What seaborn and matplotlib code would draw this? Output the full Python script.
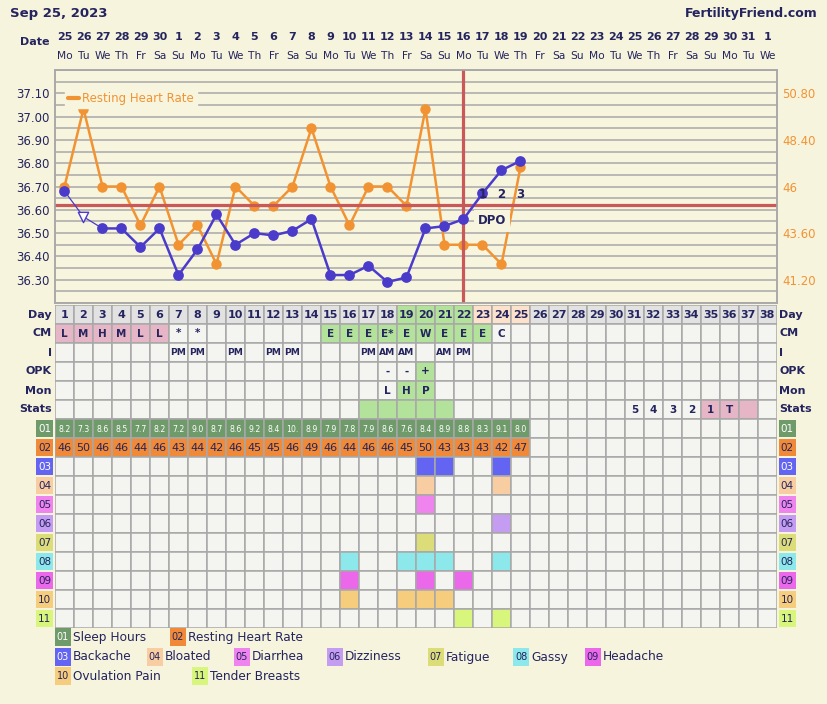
import numpy as np
import pandas as pd
import matplotlib
matplotlib.use("Agg")
import matplotlib.pyplot as plt
import seaborn as sns
from matplotlib.transforms import blended_transform_factory
from matplotlib.patches import Rectangle
from matplotlib.lines import Line2D

# ---------------- data ----------------
title_date = "Sep 25, 2023"
site = "FertilityFriend.com"
date_numbers = [25, 26, 27, 28, 29, 30, 1, 2, 3, 4, 5, 6, 7, 8, 9, 10, 11, 12, 13,
                14, 15, 16, 17, 18, 19, 20, 21, 22, 23, 24, 25, 26, 27, 28, 29, 30, 31, 1]
weekdays = ["Mo", "Tu", "We", "Th", "Fr", "Sa", "Su", "Mo", "Tu", "We", "Th", "Fr", "Sa",
            "Su", "Mo", "Tu", "We", "Th", "Fr", "Sa", "Su", "Mo", "Tu", "We", "Th", "Fr",
            "Sa", "Su", "Mo", "Tu", "We", "Th", "Fr", "Sa", "Su", "Mo", "Tu", "We"]
cycle_days = list(range(1, 39))

temp_days = list(range(1, 26))
temps = [36.68, 36.57, 36.52, 36.52, 36.44, 36.52, 36.32, 36.43, 36.58, 36.45,
         36.50, 36.49, 36.51, 36.56, 36.32, 36.32, 36.36, 36.29, 36.31, 36.52,
         36.53, 36.56, 36.67, 36.77, 36.81]
discarded_days = [2]
heart_rate = [46, 50, 46, 46, 44, 46, 43, 44, 42, 46, 45, 45, 46, 49, 46, 44, 46, 46,
              45, 50, 43, 43, 43, 42, 47]
sleep_hours = ["8.2", "7.3", "8.6", "8.5", "7.7", "8.2", "7.2", "9.0", "8.7", "8.6",
               "9.2", "8.4", "10.", "8.9", "7.9", "7.8", "7.9", "8.6", "7.6", "8.4",
               "8.9", "8.8", "8.3", "9.1", "8.0"]
coverline = 36.62
ovulation_day = 22
dpo_days = [23, 24, 25]
dpo_labels = ["1", "2", "3"]

temp_ticks = [36.30, 36.40, 36.50, 36.60, 36.70, 36.80, 36.90, 37.00, 37.10]
hr_ticks = [41.2, 43.6, 46.0, 48.4, 50.8]
hr_tick_labels = ["41.20", "43.60", "46", "48.40", "50.80"]

fertile_days = [19, 20, 21, 22]
post_ov_days = [23, 24, 25]

cm_days = [1, 2, 3, 4, 5, 6, 7, 8, 15, 16, 17, 18, 19, 20, 21, 22, 23, 24]
cm_labels = ["L", "M", "H", "M", "L", "L", "*", "*", "E", "E", "E", "E*", "E", "W",
             "E", "E", "E", "C"]
cm_pink_days = [1, 2, 3, 4, 5, 6]
cm_green_days = [15, 16, 17, 18, 19, 20, 21, 22, 23]

i_days = [7, 8, 10, 12, 13, 17, 18, 19, 21, 22]
i_labels = ["PM", "PM", "PM", "PM", "PM", "PM", "AM", "AM", "AM", "PM"]

opk_days = [18, 19, 20]
opk_labels = ["-", "-", "+"]
opk_green_days = [20]

mon_days = [18, 19, 20]
mon_labels = ["L", "H", "P"]
mon_green_days = [19, 20]

stats_green_days = [17, 18, 19, 20, 21]
stats_pink_days = [35, 36, 37]
stats_days = [31, 32, 33, 34, 35, 36]
stats_labels = ["5", "4", "3", "2", "1", "T"]

row_titles = ["Day", "CM", "I", "OPK", "Mon", "Stats"]
symptom_codes = ["01", "02", "03", "04", "05", "06", "07", "08", "09", "10", "11"]
symptom_names = ["Sleep Hours", "Resting Heart Rate", "Backache", "Bloated", "Diarrhea",
                 "Dizziness", "Fatigue", "Gassy", "Headache", "Ovulation Pain",
                 "Tender Breasts"]
backache_days = [20, 21, 24]
bloated_days = [20, 24]
diarrhea_days = [20]
dizziness_days = [24]
fatigue_days = [20]
gassy_days = [16, 19, 20, 21, 24]
headache_days = [16, 20, 22]
ovulation_pain_days = [16, 19, 20, 21]
tender_breasts_days = [22, 24]

# ---------------- style ----------------
NAVY = "#24245e"
ORANGE = "#f29333"
PURPLE = "#4b3bcb"
RED = "#c95858"
GRID = "#a8a8a8"
BG = "#f7f4dd"
CHART_BG = "#f8f5df"
CELL = "#f4f4f0"
DAYGREY = "#e2e2e2"
GREEN = "#b3e29b"
PINK = "#e7b6c6"
PEACH = "#fde2cb"
sym_colors = ["#6f9a6a", "#f08a38", "#6464f2", "#f8cda2", "#ef84ef", "#c49cf2",
              "#dcdc78", "#8ce8ea", "#eb68eb", "#f6cd7c", "#d9f67c"]
sym_text = ["white", NAVY, "white", NAVY, NAVY, NAVY, NAVY, NAVY, NAVY, NAVY, NAVY]

sns.set_style("white")
plt.rcParams["font.family"] = ["DejaVu Sans"]

W, H = 828, 704
fig = plt.figure(figsize=(W / 100, H / 100), dpi=100, facecolor=BG)


def fx(px):
    return px / W


def fy(py):
    return 1 - py / H


# chart axes
x0, x1 = 55, 777
cy0, cy1 = 70, 303
ax = fig.add_axes([fx(x0), fy(cy1), (x1 - x0) / W, (cy1 - cy0) / H])
ax_hr = ax.twinx()
ax.set_zorder(ax_hr.get_zorder() + 1)
ax.patch.set_visible(False)
ax_hr.patch.set_visible(True)
ax_hr.patch.set_facecolor(CHART_BG)

# heart-rate line
hr_df = pd.DataFrame({"day": temp_days, "hr": heart_rate})
sns.lineplot(data=hr_df, x="day", y="hr", ax=ax_hr, color=ORANGE, lw=1.8,
             marker="o", markersize=7.5, markeredgewidth=0, zorder=3)

# reference lines
ax.axhline(coverline, color=RED, lw=2.3, zorder=2)
ax.axvline(ovulation_day, color=RED, lw=2.3, zorder=2)

# temperature line
t_df = pd.DataFrame({"day": temp_days, "temp": temps})
t_df["discarded"] = t_df["day"].isin(discarded_days)
sns.lineplot(data=t_df.iloc[:3], x="day", y="temp", ax=ax, color=PURPLE, lw=0.9,
             zorder=4)
sns.lineplot(data=t_df.iloc[2:], x="day", y="temp", ax=ax, color=PURPLE, lw=1.8,
             zorder=4)
sns.scatterplot(data=t_df[~t_df["discarded"]], x="day", y="temp", ax=ax,
                color=PURPLE, s=60, linewidth=0, zorder=5)
sns.scatterplot(data=t_df[t_df["discarded"]], x="day", y="temp", ax=ax,
                marker="v", s=55, facecolor="white", edgecolor=PURPLE,
                linewidth=1.0, zorder=5)

ax.set_xlim(0.5, 38.5)
ax.set_ylim(36.20, 37.20)
ax_hr.set_ylim(40.0, 52.0)

# grid on background axis
ax_hr.set_xticks(np.arange(0.5, 38.6, 1.0))
ax_hr.set_yticks(hr_ticks)
ax_hr.set_yticklabels(hr_tick_labels)
ax_hr.set_yticks(np.arange(40.0, 52.01, 0.6), minor=True)
ax_hr.grid(True, which="both", color=GRID, lw=1.1)
ax_hr.set_axisbelow(True)
ax_hr.tick_params(axis="y", which="both", length=0, pad=4, labelsize=8.5,
                  labelcolor=ORANGE)
ax_hr.tick_params(axis="x", which="both", length=0, labelbottom=False)

ax.set_yticks(temp_ticks)
ax.set_yticklabels([f"{t:.2f}" for t in temp_ticks])
ax.tick_params(axis="y", length=0, pad=4, labelsize=8.5, labelcolor=NAVY)
ax.tick_params(axis="x", length=0, labelbottom=False)
for a in (ax, ax_hr):
    a.set_xlabel("")
    a.set_ylabel("")
    for s in a.spines.values():
        s.set_color(GRID)
        s.set_linewidth(1.1)

# DPO labels
dpo_y = coverline + 0.045
for d, lab in zip(dpo_days, dpo_labels):
    ax.text(d, dpo_y, lab, ha="center", va="center", fontsize=8.5,
            fontweight="bold", color=NAVY, zorder=6)
ax.text(dpo_days[0] + 0.5, coverline - 0.068, "DPO", ha="center", va="center",
        fontsize=8.5, fontweight="bold", color=NAVY, zorder=6,
        bbox=dict(boxstyle="square,pad=0.35", fc=CHART_BG, ec="none"))

# chart legend
leg = ax.legend(handles=[Line2D([0], [0], color=ORANGE, lw=3)],
                labels=["Resting Heart Rate"], loc="upper left",
                bbox_to_anchor=(0.006, 0.945), fontsize=8.5, labelcolor=ORANGE,
                handlelength=0.9, handletextpad=0.3, borderpad=0.25,
                frameon=True, fancybox=False, framealpha=1,
                facecolor=CHART_BG, edgecolor=CHART_BG)
leg.set_zorder(7)

# header texts
fig.text(fx(10), fy(13), title_date, ha="left", va="center", fontsize=9.5,
         fontweight="bold", color=NAVY)
fig.text(fx(818), fy(13), site, ha="right", va="center", fontsize=9,
         fontweight="bold", color=NAVY)
fig.text(fx(50), fy(42), "Date", ha="right", va="center", fontsize=8,
         fontweight="bold", color=NAVY)
trans = blended_transform_factory(ax.transData, fig.transFigure)
for d, num, wd in zip(cycle_days, date_numbers, weekdays):
    ax.text(d, fy(37), str(num), transform=trans, ha="center", va="center",
            fontsize=8, fontweight="bold", color=NAVY)
    ax.text(d, fy(56), wd, transform=trans, ha="center", va="center",
            fontsize=7.7, color=NAVY)

# ---------------- table ----------------
ty0, ty1 = 305, 628
tab = fig.add_axes([fx(x0), fy(ty1), (x1 - x0) / W, (ty1 - ty0) / H])
tab.set_xlim(0.5, 38.5)
tab.set_ylim(17, 0)
tab.axis("off")

n = len(cycle_days)


def colors_for(base, special):
    cols = [base] * n
    for col, ds in special:
        for d in ds:
            cols[d - 1] = col
    return cols


row_colors = [
    colors_for(DAYGREY, [(GREEN, fertile_days), (PEACH, post_ov_days)]),
    colors_for(CELL, [(PINK, cm_pink_days), (GREEN, cm_green_days)]),
    colors_for(CELL, []),
    colors_for(CELL, [(GREEN, opk_green_days)]),
    colors_for(CELL, [(GREEN, mon_green_days)]),
    colors_for(CELL, [(GREEN, stats_green_days), (PINK, stats_pink_days)]),
    colors_for(CELL, [(sym_colors[0], temp_days)]),
    colors_for(CELL, [(sym_colors[1], temp_days)]),
]
sym_day_lists = [backache_days, bloated_days, diarrhea_days, dizziness_days,
                 fatigue_days, gassy_days, headache_days, ovulation_pain_days,
                 tender_breasts_days]
for k, ds in enumerate(sym_day_lists):
    row_colors.append(colors_for(CELL, [(sym_colors[k + 2], ds)]))

for r, cols in enumerate(row_colors):
    tab.bar(cycle_days, 1, bottom=r, width=1, color=cols, edgecolor=GRID,
            linewidth=1.1, align="center")

# row texts
for d in cycle_days:
    tab.text(d, 0.52, str(d), ha="center", va="center", fontsize=8,
             fontweight="bold", color=NAVY)
for d, lab in zip(cm_days, cm_labels):
    tab.text(d, 1.55 if lab != "*" else 1.45, lab, ha="center", va="center",
             fontsize=7.5, fontweight="bold", color=NAVY)
for d, lab in zip(i_days, i_labels):
    tab.text(d, 2.5, lab, ha="center", va="center", fontsize=6.6,
             fontweight="bold", color=NAVY)
for d, lab in zip(opk_days, opk_labels):
    tab.text(d, 3.5, lab, ha="center", va="center", fontsize=7.5,
             fontweight="bold", color=NAVY)
for d, lab in zip(mon_days, mon_labels):
    tab.text(d, 4.55, lab, ha="center", va="center", fontsize=7.5,
             fontweight="bold", color=NAVY)
for d, lab in zip(stats_days, stats_labels):
    tab.text(d, 5.55, lab, ha="center", va="center", fontsize=7.5,
             fontweight="bold", color=NAVY)
for d, v in zip(temp_days, sleep_hours):
    tab.text(d, 6.55, v, ha="center", va="center", fontsize=5.6, color="white")
for d, v in zip(temp_days, heart_rate):
    tab.text(d, 7.55, str(v), ha="center", va="center", fontsize=8, color=NAVY)

# row titles left/right
for r, lab in enumerate(row_titles):
    tab.text(0.34, r + 0.5, lab, ha="right", va="center", fontsize=8,
             fontweight="bold", color=NAVY)
    tab.text(38.62, r + 0.5, lab, ha="left", va="center", fontsize=8,
             fontweight="bold", color=NAVY)
for k, code in enumerate(symptom_codes):
    r = 6 + k
    for xl in (-0.5, 38.58):
        tab.add_patch(Rectangle((xl, r + 0.06), 0.9, 0.88, color=sym_colors[k],
                                clip_on=False, lw=0))
        tab.text(xl + 0.45, r + 0.53, code, ha="center", va="center", fontsize=7.5,
                 color=sym_text[k])

# ---------------- bottom legend ----------------
legend_rows_y = [637, 657, 676]
legend_layout = [(0, 55, 0), (1, 170, 0),
                 (2, 55, 1), (3, 147, 1), (4, 234, 1), (5, 327, 1), (6, 428, 1),
                 (7, 513, 1), (8, 585, 1),
                 (9, 55, 2), (10, 192, 2)]
for k, xp, row in legend_layout:
    yc = legend_rows_y[row]
    fig.add_artist(Rectangle((fx(xp), fy(yc + 9)), 16 / W, 18 / H,
                             transform=fig.transFigure, color=sym_colors[k], lw=0))
    fig.text(fx(xp + 8), fy(yc), symptom_codes[k], ha="center", va="center",
             fontsize=7, color=sym_text[k])
    fig.text(fx(xp + 18), fy(yc), symptom_names[k], ha="left", va="center",
             fontsize=8.7, color=NAVY)

fig.savefig("out.png", dpi=100, facecolor=BG)
